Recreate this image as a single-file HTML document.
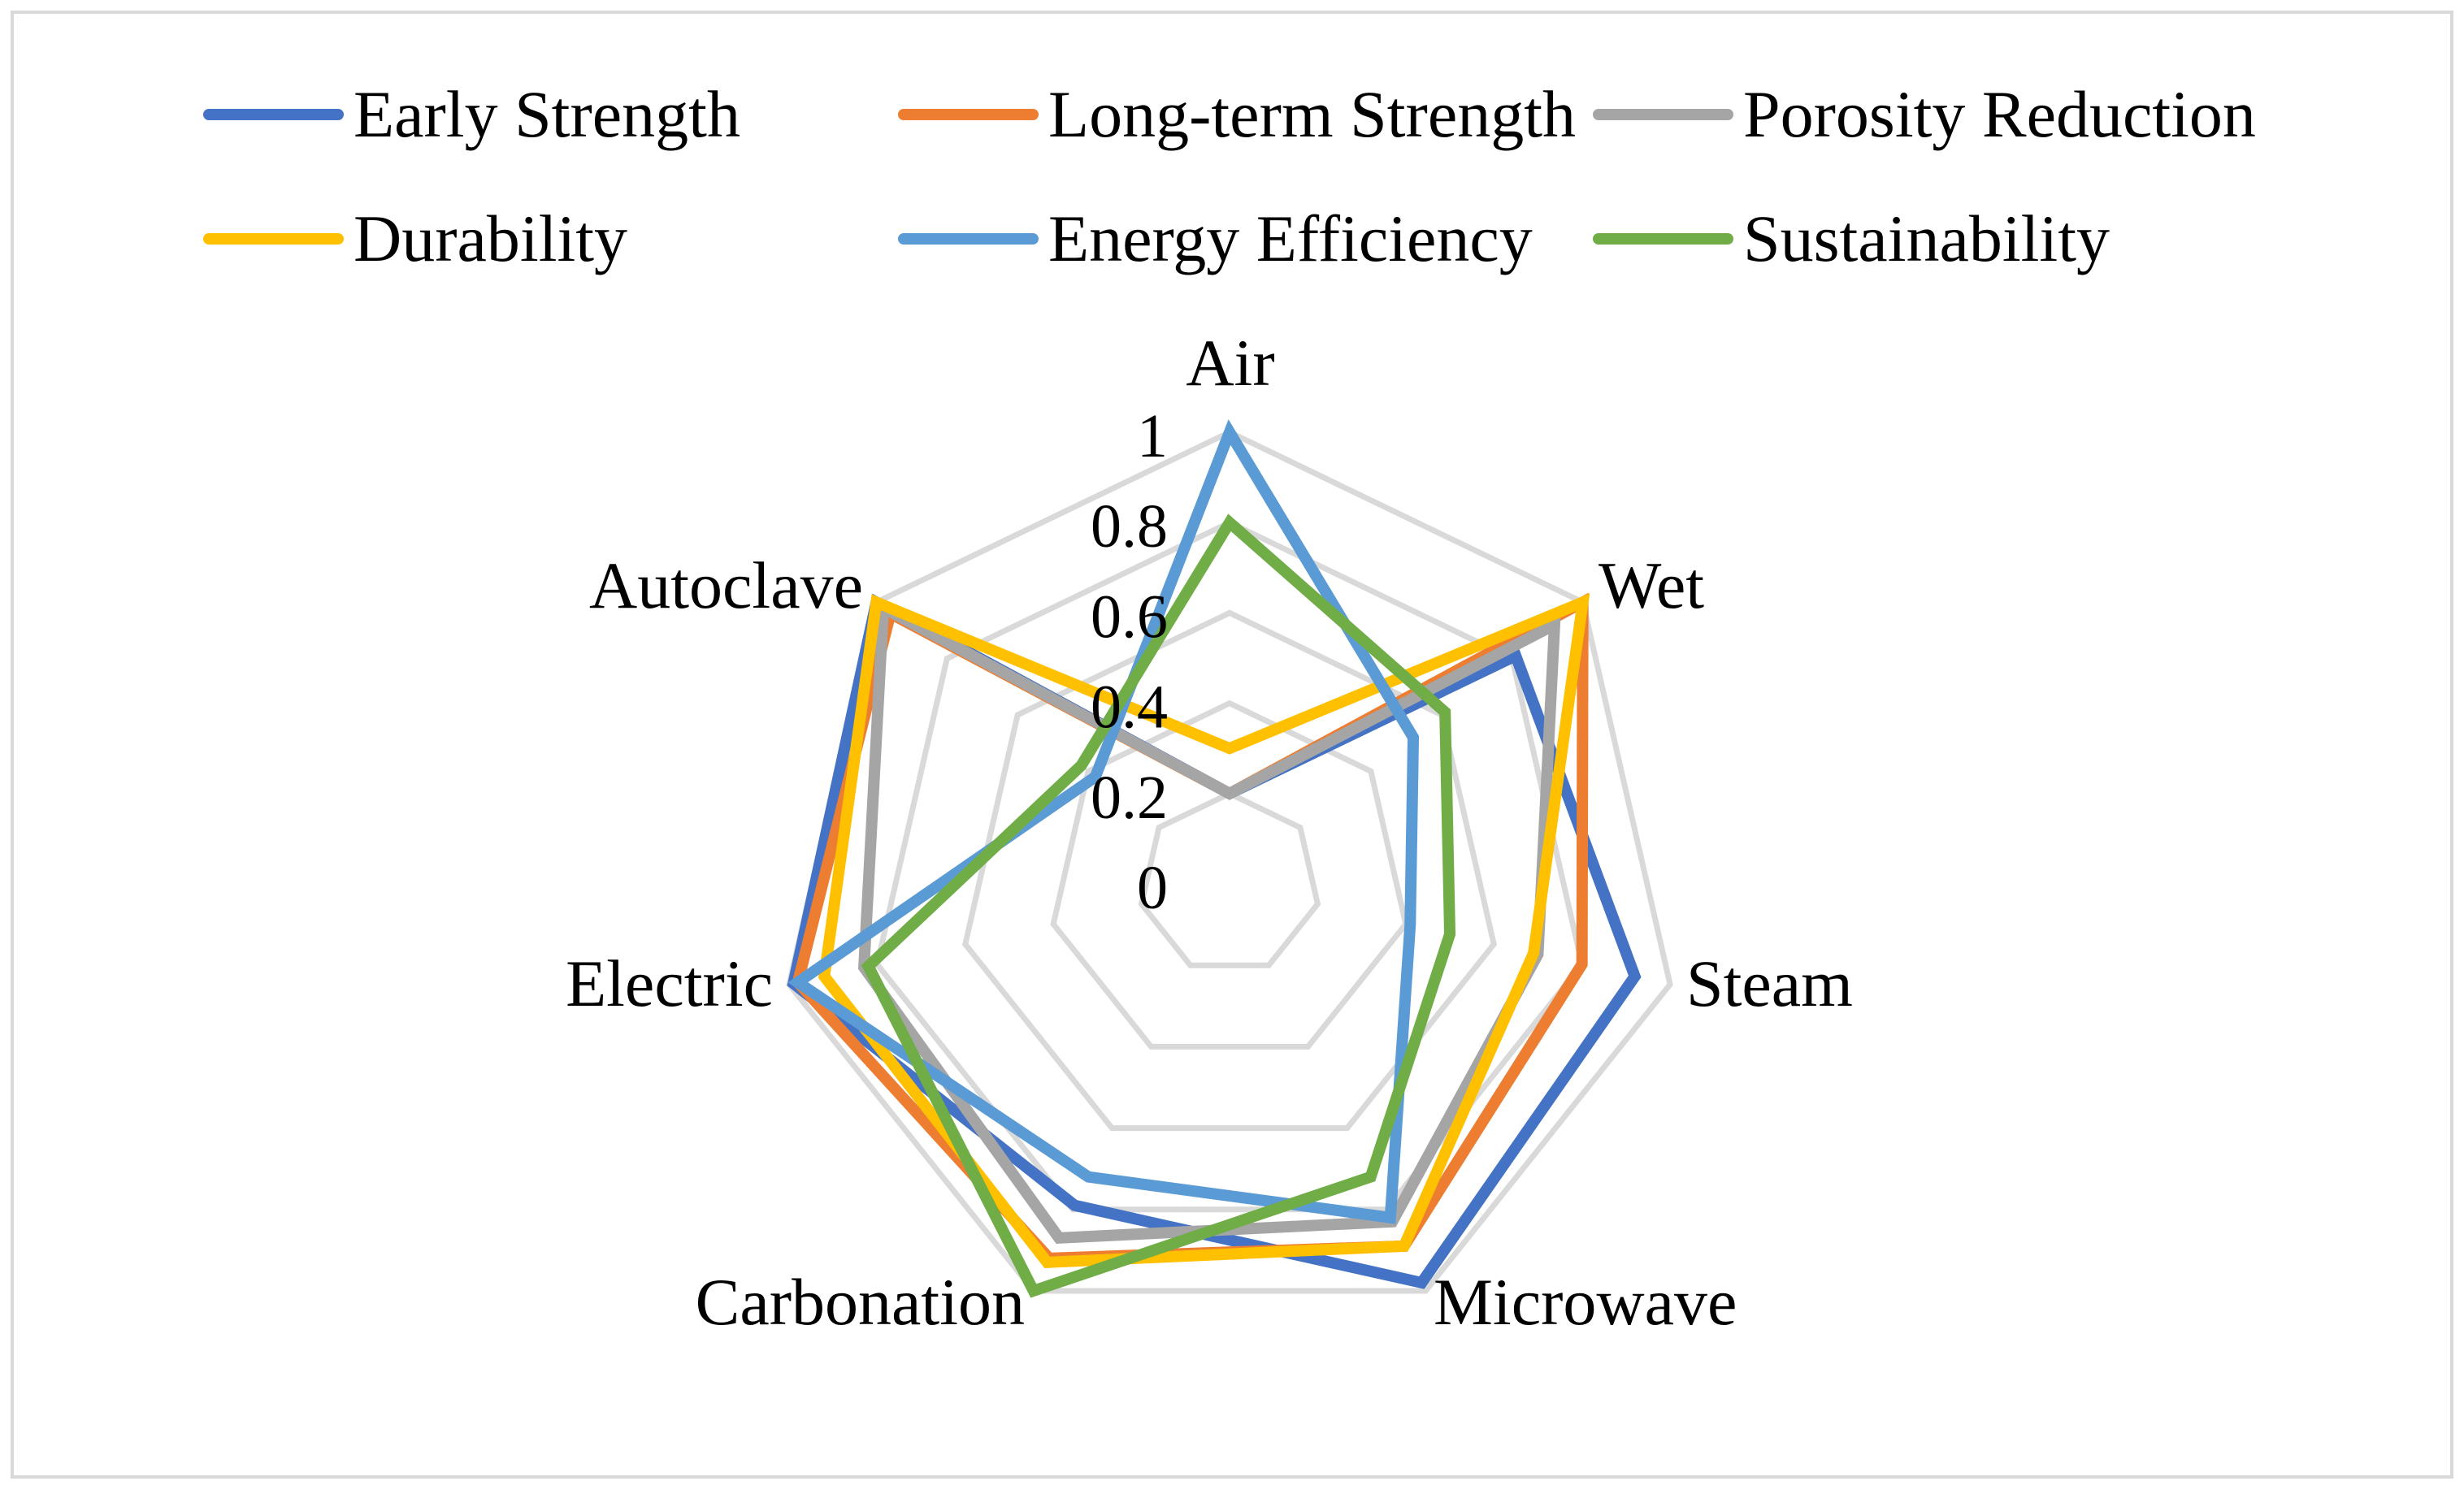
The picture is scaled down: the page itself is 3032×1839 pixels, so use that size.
<!DOCTYPE html>
<html><head><meta charset="utf-8"><style>
html,body{margin:0;padding:0;background:#fff;}
svg{display:block;}
text{font-family:"Liberation Serif",serif;fill:#000;}
</style></head><body>
<svg id="chart" width="3032" height="1839" viewBox="0 0 3032 1839" xmlns="http://www.w3.org/2000/svg">
<rect x="15" y="15" width="3002" height="1803" fill="#fff" stroke="#d9d9d9" stroke-width="4"/>
<g id="legend"></g>
<g id="grid"></g>
<g id="series"></g>
<g id="labels"></g>
</svg>
<script>
const categories = ["Air","Wet","Steam","Microwave","Carbonation","Electric","Autoclave"];
const seriesNames = ["Early Strength","Long-term Strength","Porosity Reduction","Durability","Energy Efficiency","Sustainability"];
const earlyStrength = [0.2,0.81,0.92,0.98,0.79,0.99,1.0];
const longTermStrength = [0.2,1.0,0.80,0.89,0.92,0.98,0.96];
const porosityReduction = [0.2,0.92,0.70,0.83,0.87,0.83,0.98];
const durability = [0.3,1.0,0.69,0.89,0.93,0.92,1.0];
const energyEfficiency = [1.0,0.52,0.41,0.82,0.72,0.98,0.38];
const sustainability = [0.8,0.61,0.50,0.72,1.0,0.82,0.42];
const tickValues = [0,0.2,0.4,0.6,0.8,1];
const tickLabels = ["0","0.2","0.4","0.6","0.8","1"];

const colors = ["#4472c4","#ed7d31","#a5a5a5","#ffc000","#5b9bd5","#70ad47"];
const allSeries = [earlyStrength,longTermStrength,porosityReduction,durability,energyEfficiency,sustainability];
const NS="http://www.w3.org/2000/svg";
const cx=1513, cy=1088, R=556, vmax=1;
function rScale(v){return v/vmax*R;}
function pt(i,v){const a=(-90+i*360/categories.length)*Math.PI/180;const r=rScale(v);return [cx+r*Math.cos(a),cy+r*Math.sin(a)];}
function mk(tag,attrs,parent){const e=document.createElementNS(NS,tag);for(const k in attrs)e.setAttribute(k,attrs[k]);parent.appendChild(e);return e;}

const grid=document.getElementById('grid');
tickValues.forEach((t,ti)=>{
  if(t===0)return;
  const pts=categories.map((c,i)=>pt(i,t).join(',')).join(' ');
  const p=mk('polygon',{points:pts,fill:'none',stroke:'#d9d9d9','stroke-width':7},grid);
  
  
});
const labels=document.getElementById('labels');
tickValues.forEach((t,ti)=>{
  const tx=mk('text',{x:1437,y:cy-rScale(t)+30,'text-anchor':'end','font-size':76},labels);
  tx.textContent=tickLabels[ti];
  
  
});
const catPos=[[1514,474,'middle'],[1967,748,'start'],[2075,1238,'start'],[1764,1630,'start'],[1261,1630,'end'],[951,1238,'end'],[1062,748,'end']];
categories.forEach((c,i)=>{
  const tx=mk('text',{x:catPos[i][0],y:catPos[i][1],'text-anchor':catPos[i][2],'font-size':82},labels);
  tx.textContent=c;
  
  
});
const sg=document.getElementById('series');
allSeries.forEach((s,si)=>{
  const pts=s.map((v,i)=>pt(i,v).join(',')).join(' ');
  const p=mk('polygon',{points:pts,fill:'none',stroke:colors[si],'stroke-width':14,'stroke-linejoin':'miter'},sg);
  
  
});
const lg=document.getElementById('legend');
const lcols=[257,1112,1967], lrows=[141,294];
seriesNames.forEach((n,i)=>{
  const x=lcols[i%3], y=lrows[Math.floor(i/3)];
  const l=mk('line',{x1:x,y1:y,x2:x+159,y2:y,stroke:colors[i],'stroke-width':14,'stroke-linecap':'round'},lg);
  
  
  const t=mk('text',{x:x+178,y:y+27,'font-size':82},lg);
  t.textContent=n;
  
  
});
</script>
</body></html>
